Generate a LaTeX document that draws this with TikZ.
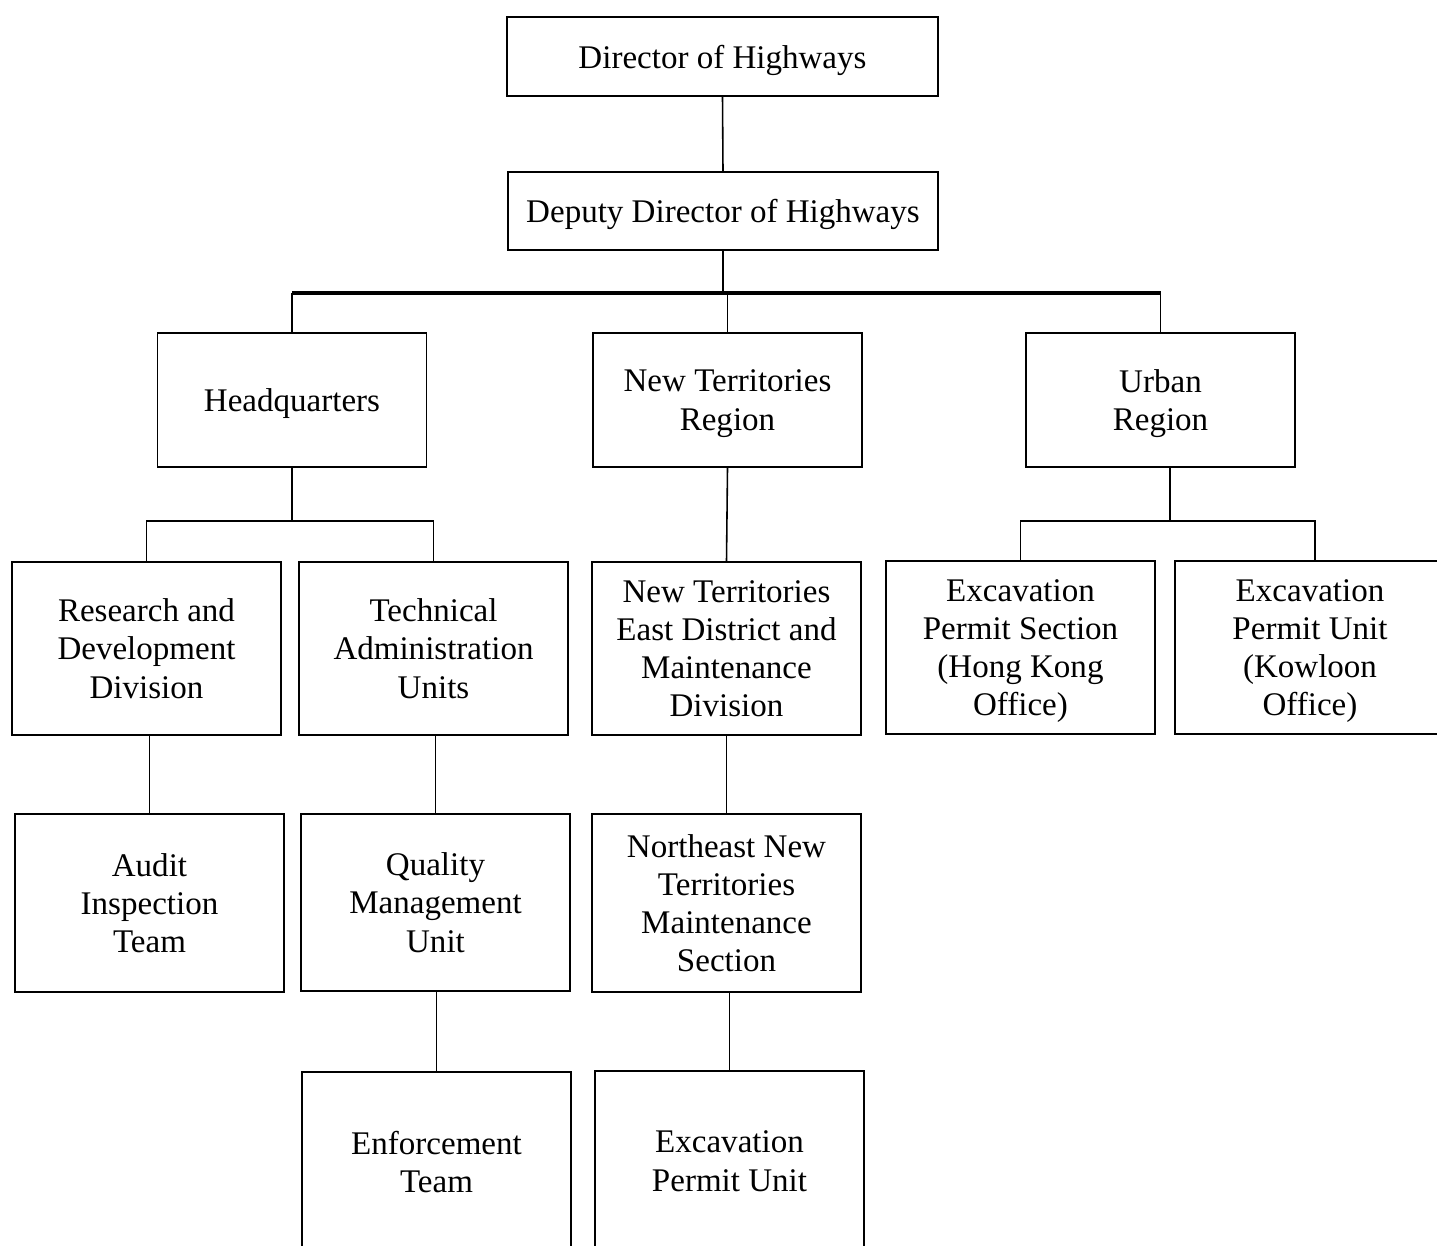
\documentclass[tikz,border=0pt]{standalone}
\usepackage{fontspec}
\setmainfont{Liberation Serif}
\begin{document}
\begin{tikzpicture}[x=0.02cm,y=-0.02cm,
  box/.style={draw,line width=1.1pt,align=center,inner sep=0pt,text depth=0pt,
    font=\fontsize{18.8}{21.7}\selectfont},
  w/.style={minimum width=5.38cm},
  conn/.style={line width=0.9pt},
  bus/.style={line width=2pt}]
\useasboundingbox (0,0) rectangle (1437,1245);
\clip (0,0) rectangle (1437,1245);
\fill[white] (0,0) rectangle (1437,1245);
% boxes
\node[box,minimum width=8.62cm,minimum height=1.58cm] (dir) at (722.5,56.5) {Director of Highways};
\node[box,minimum width=8.6cm,minimum height=1.56cm] (dep) at (723,211) {Deputy Director of Highways};
\node[box,w,minimum height=2.68cm] (hq) at (292,400) {Headquarters};
\node[box,w,minimum height=2.68cm] (ntr) at (727.5,400) {New Territories\\Region};
\node[box,w,minimum height=2.68cm] (urb) at (1160.5,400) {Urban\\Region};
\node[box,w,minimum height=3.46cm] (rd) at (146.5,648.5) {Research and\\Development\\Division};
\node[box,w,minimum height=3.46cm] (ta) at (433.5,648.5) {Technical\\Administration\\Units};
\node[box,w,minimum height=3.46cm] (nte) at (726.5,648.5) {New Territories\\East District and\\Maintenance\\Division};
\node[box,w,minimum height=3.46cm] (eph) at (1020.5,647.5) {Excavation\\Permit Section\\(Hong Kong\\Office)};
\node[box,minimum width=5.4cm,minimum height=3.46cm] (epk) at (1310,647.5) {Excavation\\Permit Unit\\(Kowloon\\Office)};
\node[box,w,minimum height=3.56cm] (aud) at (149.5,903) {Audit\\Inspection\\Team};
\node[box,w,minimum height=3.54cm] (qm) at (435.5,902.5) {Quality\\Management\\Unit};
\node[box,w,minimum height=3.56cm] (ne) at (726.5,903) {Northeast New\\Territories\\Maintenance\\Section};
\node[box,w,minimum height=3.6cm] (enf) at (436.5,1162) {Enforcement\\Team};
\node[box,w,minimum height=3.6cm] (epu) at (729.5,1161) {Excavation\\Permit Unit};
% bus coordinates
\coordinate (b1) at (724,293);
\coordinate (b2) at (292,521);
\coordinate (b3) at (1170,521);
% connectors
\draw[conn] (dir.south) -- (dep.north);
\draw[conn] (dep.south) -- (dep.south |- b1);
\draw[bus] (hq.north |- b1) -- (urb.north |- b1);
\draw[conn] (hq.north) -- (hq.north |- b1);
\draw[conn] (ntr.north) -- (ntr.north |- b1);
\draw[conn] (urb.north) -- (urb.north |- b1);
\draw[conn] (hq.south) -- (b2);
\draw[conn] (rd.north) -- (rd.north |- b2) -- (ta.north |- b2) -- (ta.north);
\draw[conn] (urb.south -| b3) -- (b3);
\draw[conn] (eph.north) -- (eph.north |- b3) -- ([xshift=0.1cm]epk.north |- b3) -- ([xshift=0.1cm]epk.north);
\draw[conn] (ntr.south) -- (nte.north);
\draw[conn] (aud.north |- rd.south) -- (aud.north);
\draw[conn] (qm.north |- ta.south) -- (qm.north);
\draw[conn] (nte.south) -- (ne.north);
\draw[conn] (enf.north |- qm.south) -- (enf.north);
\draw[conn] (epu.north |- ne.south) -- (epu.north);
\end{tikzpicture}
\end{document}
